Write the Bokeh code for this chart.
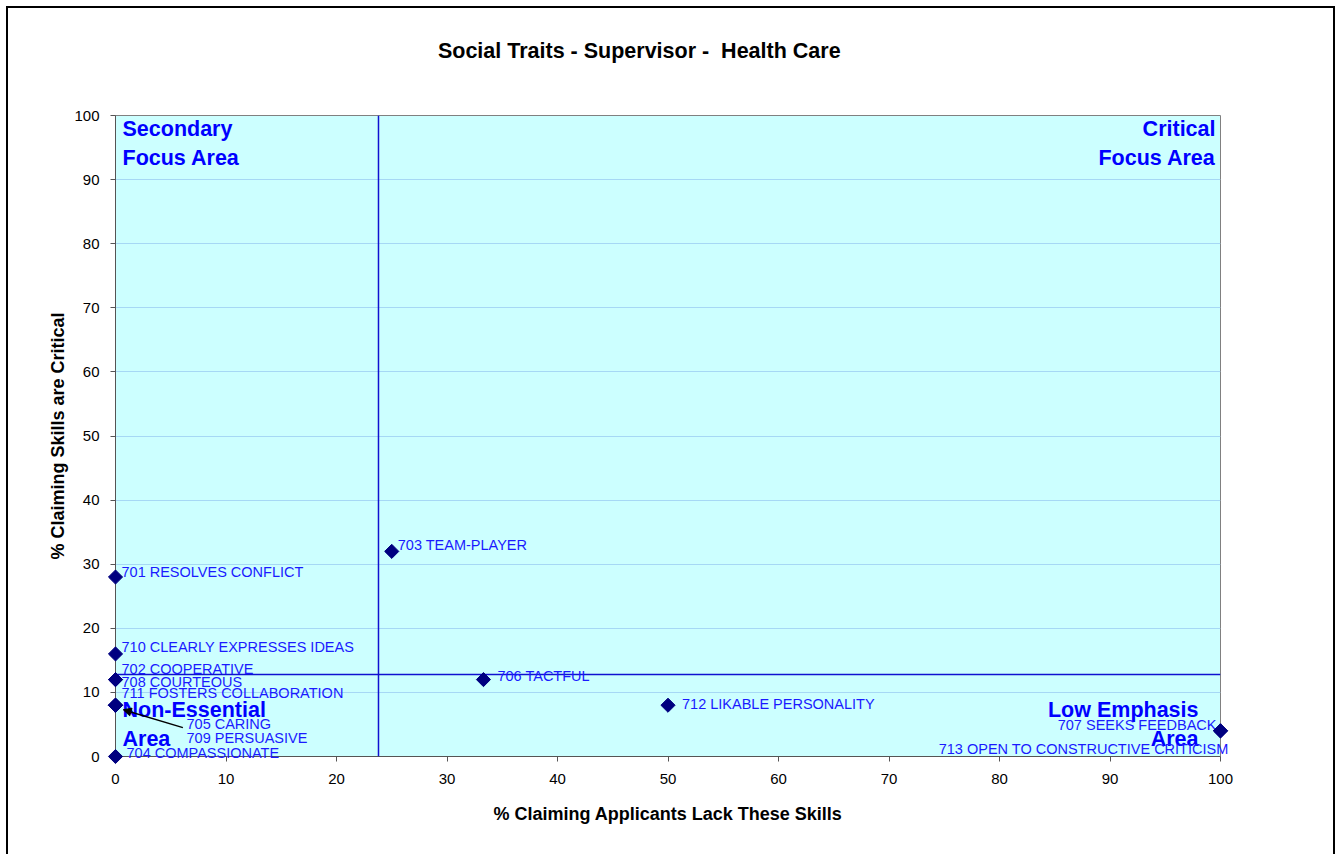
import math
from bokeh.plotting import figure
from bokeh.models import ColumnDataSource, Span, Arrow, NormalHead, FixedTicker
from bokeh.core.properties import value
from bokeh.embed import file_html
from bokeh.resources import INLINE

# ---- data ----
codes = ["701", "702", "703", "704", "705", "706", "707", "708", "709", "710", "711", "712", "713"]
names = ["RESOLVES CONFLICT", "COOPERATIVE", "TEAM-PLAYER", "COMPASSIONATE", "CARING", "TACTFUL",
         "SEEKS FEEDBACK", "COURTEOUS", "PERSUASIVE", "CLEARLY EXPRESSES IDEAS",
         "FOSTERS COLLABORATION", "LIKABLE PERSONALITY", "OPEN TO CONSTRUCTIVE CRITICISM"]
lack_pct = [0, 0, 25, 0, 0, 33.3, 100, 0, 0, 0, 0, 50, 100]
critical_pct = [28, 12, 32, 0, 8, 12, 4, 12, 8, 16, 8, 8, 4]
avg_lack = 23.8
avg_critical = 12.8
ticks = [0, 10, 20, 30, 40, 50, 60, 70, 80, 90, 100]
title_text = "Social Traits - Supervisor - \u00a0Health Care"
x_title = "% Claiming Applicants Lack These Skills"
y_title = "% Claiming Skills are Critical"
quad_text = ["Secondary\nFocus Area", "Critical\nFocus Area", "Non-Essential\nArea", "Low Emphasis\nArea"]
quad_x = [0, 100, 0, 100]
quad_y = [100, 100, 0, 0]

# ---- label placement (screen px offsets) ----
lab_dx = [6, 6, 6, 11, 71, 14, -4, 6, 71, 6, 6, 14, 8]
lab_dy = [-5, -11, -6, -4, 19, -4, -6, 2, 33, -7, -12, -1, 18]
lab_align = ["left"] * 6 + ["right"] + ["left"] * 5 + ["right"]

labels = [c + " " + n for c, n in zip(codes, names)]
src = ColumnDataSource(dict(x=lack_pct, y=critical_pct, label=labels,
                            dx=lab_dx, dy=lab_dy, align=lab_align))

p = figure(width=1329, height=850, x_range=(0, 100), y_range=(0, 100),
           output_backend="svg", toolbar_location=None, title=None,
           min_border_left=107, min_border_top=107, min_border_right=117, min_border_bottom=102)
p.styles = {"border": "2px solid black", "margin": "6px 0 0 6px"}
p.background_fill_color = "#CCFFFF"
p.border_fill_color = "white"
p.outline_line_color = "#808080"
p.outline_line_width = 1

p.xgrid.visible = False
p.ygrid.grid_line_color = "#A6D8F5"
p.ygrid.grid_line_width = 1
p.ygrid.ticker = FixedTicker(ticks=ticks)

for ax in (p.xaxis[0], p.yaxis[0]):
    ax.ticker = FixedTicker(ticks=ticks)
    ax.axis_line_color = "#555555"
    ax.major_tick_line_color = "#555555"
    ax.major_tick_out = 5
    ax.major_tick_in = 0
    ax.minor_tick_line_color = None
    ax.major_label_text_font = "Liberation Sans"
    ax.major_label_text_font_size = "15px"
    ax.major_label_text_color = "black"
    ax.axis_label_text_font = "Liberation Sans"
    ax.axis_label_text_font_size = "18px"
    ax.axis_label_text_font_style = "bold"
    ax.axis_label_text_color = "black"

p.xaxis.axis_label = x_title
p.yaxis.axis_label = y_title
p.xaxis.major_label_standoff = 12
p.yaxis.major_label_standoff = 11
p.xaxis.axis_label_standoff = 17
p.yaxis.axis_label_standoff = 3

# reference lines
p.add_layout(Span(location=avg_lack, dimension="height", line_color="#1010D0", line_width=1.5))
p.add_layout(Span(location=avg_critical, dimension="width", line_color="#1010D0", line_width=1.5))

# quadrant labels
qsrc = ColumnDataSource(dict(x=quad_x, y=quad_y, text=quad_text,
                             dx=[7, -5, 7, -22], dy=[1, 1, -5, -5],
                             align=["left", "right", "left", "right"],
                             base=["top", "top", "bottom", "bottom"]))
p.text(x="x", y="y", text="text", source=qsrc, x_offset="dx", y_offset="dy",
       text_align="align", text_baseline="base", text_font=value("Liberation Sans"),
       text_font_style="bold", text_font_size="21.5px", text_color="#0000FF",
       text_line_height=1.22)

# data labels (overlay level so labels may run past the plot area edge)
p.text(x="x", y="y", text="label", source=src, x_offset="dx", y_offset="dy",
       text_align="align", text_baseline="middle", text_font=value("Liberation Sans"),
       text_font_size="14.5px", text_color="#1A1AFF", level="overlay")

# arrow from 705/709 labels to their point
p.add_layout(Arrow(end=NormalHead(size=8, fill_color="black", line_color="black"),
                   x_start=6.1, y_start=4.5, x_end=0.7, y_end=7.3,
                   line_color="black", line_width=1.5))

# points (rotated squares = Excel diamonds), drawn above the frame so edge points are not cut
p.scatter(x="x", y="y", source=src, marker="square", angle=math.pi / 4, size=10,
          fill_color="#000080", line_color="#000080", level="overlay")

# chart title, placed above the plot area
p.text(x=[47.4], y=[110.1], text=[title_text], text_align="center", text_baseline="middle",
       text_font=value("Liberation Sans"), text_font_style="bold", text_font_size="21.5px",
       text_color="black", level="overlay")

html = file_html(p, INLINE)
html = html.replace("<head>", "<head><style>html,body{overflow:hidden;}</style>", 1)
open("out.html", "w").write(html)
